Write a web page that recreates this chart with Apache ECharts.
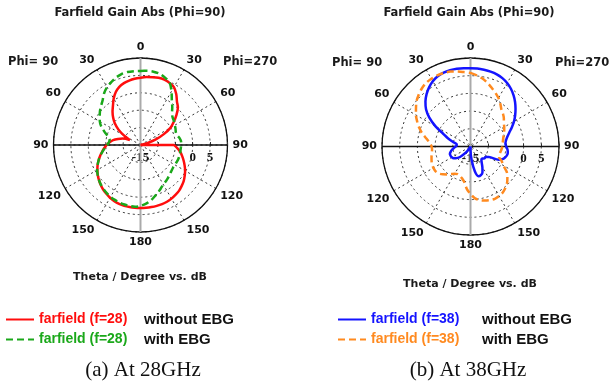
<!DOCTYPE html>
<html>
<head>
<meta charset="utf-8">
<title>Farfield Gain Abs</title>
<script src="https://cdn.jsdelivr.net/npm/echarts/dist/echarts.min.js"></script>
<style>
  html, body { margin: 0; padding: 0; background: #fff; }
  #chart { width: 611px; height: 383px; }
</style>
</head>
<body>
<div id="chart"></div>
<script>
// theta 采样 (度, 从正上方顺时针: 0-180 为 Phi=270 一侧, 180-360 为 Phi=90 一侧)
const thetaGrid = [
  0, 5, 10, 15, 20, 25, 30, 35, 40, 45, 50, 55,
  60, 65, 70, 75, 80, 85, 90, 95, 100, 105, 110, 115,
  120, 125, 130, 135, 140, 145, 150, 155, 160, 165, 170, 175,
  180, 185, 190, 195, 200, 205, 210, 215, 220, 225, 230, 235,
  240, 245, 250, 255, 260, 265, 270, 275, 280, 285, 290, 295,
  300, 305, 310, 315, 320, 325, 330, 335, 340, 345, 350, 355,
  360
];

// 增益 dB
const gain28NoEbg = [
  4.3, 4.6, 4.8, 5.0, 5.0, 4.7, 4.2, 2.9, 1.3, 0.2, -1.5, -3.3,
  -5.0, -7.6, -10.3, -13.0, -15, -15, -5.5, -4.4, -3.4, -2.6, -1.8, -1.0,
  -0.2, 0.5, 1.2, 1.7, 2.2, 2.5, 2.8, 3.0, 3.1, 3.1, 3.1, 3.1,
  3.1, 3.1, 3.1, 3.1, 3.0, 2.8, 2.5, 2.1, 1.7, 1.2, 0.6, 0.0,
  -0.7, -1.4, -2.2, -3.0, -3.8, -4.5, -5.3, -6.1, -7.0, -8.3, -9.6, -11.6,
  -9.5, -7.3, -5.4, -3.9, -2.5, -1.2, 0.4, 1.8, 2.8, 3.4, 3.8, 4.1,
  4.3
];
const gain28Ebg = [
  6.3, 6.4, 6.4, 6.2, 5.6, 4.8, 2.8, 0.7, -0.8, -2.2, -2.9, -3.2,
  -3.6, -3.9, -4.2, -4.1, -3.6, -3.3, -3.3, -3.4, -3.4, -3.4, -3.4, -3.5,
  -3.6, -3.6, -3.4, -3.1, -2.7, -2.3, -1.9, -1.2, -0.4, 0.4, 1.3, 2.0,
  2.5, 2.8, 2.8, 2.7, 2.6, 2.4, 2.2, 1.9, 1.5, 1.1, 0.6, 0.0,
  -0.6, -1.4, -2.2, -3.0, -3.9, -4.7, -5.4, -5.9, -6.0, -5.3, -4.0, -2.6,
  -1.5, -0.7, 0.2, 1.0, 1.9, 3.2, 4.2, 4.9, 5.6, 6.1, 6.3, 6.3,
  6.3
];
const gain38NoEbg = [
  7.1, 7.1, 7.0, 6.9, 6.7, 6.3, 5.7, 4.9, 3.9, 2.8, 1.6, 0.4,
  -0.8, -2.1, -3.3, -4.2, -4.8, -5.1, -4.9, -4.5, -4.3, -4.5, -5.0, -6.2,
  -9.0, -9.8, -9.8, -10.2, -10.2, -9.5, -8.3, -7.0, -6.4, -6.3, -7.8, -11.0,
  -14.0, -15, -15, -15, -15, -15, -14.5, -13.4, -12.2, -10.8, -9.9, -9.2,
  -8.9, -8.8, -8.8, -9.2, -9.7, -10.3, -10.8, -11.1, -11.0, -9.8, -8.2, -6.5,
  -3.6, -0.8, 1.4, 3.0, 4.3, 5.4, 6.3, 6.9, 7.2, 7.3, 7.3, 7.2,
  7.1
];
const gain38Ebg = [
  5.8, 5.2, 4.5, 3.6, 2.6, 1.7, 0.8, -0.3, -1.4, -2.0, -2.7, -3.5,
  -4.0, -4.5, -5.0, -5.4, -5.7, -5.9, -6.0, -6.2, -6.4, -6.5, -6.4, -5.3,
  -4.3, -2.5, -1.4, -0.4, 0.3, 0.9, 1.2, 1.3, 1.1, 0.8, 0.4, -0.3,
  -1.6, -3.0, -4.8, -5.7, -6.2, -6.4, -6.1, -5.5, -4.7, -3.9, -3.2, -2.9,
  -2.9, -3.0, -3.3, -3.6, -3.9, -4.1, -4.0, -3.4, -2.4, -0.9, 0.4, 1.6,
  2.8, 3.8, 4.9, 5.7, 6.4, 6.9, 7.1, 7.2, 7.1, 6.9, 6.5, 6.1,
  5.8
];

// 径向刻度 (dB) 与只显示的刻度标签
const radiusMin = -15;
const radiusMax = 10;
const radiusStep = 5;
const radiusLabels = [-15, 0, 5];

// 图例文字
const legendLabels28 = ['farfield (f=28)', 'farfield (f=28)'];
const legendLabels38 = ['farfield (f=38)', 'farfield (f=38)'];
const legendNotes = ['without EBG', 'with EBG'];

const dom = document.getElementById('chart');
const myChart = echarts.init(dom, null, { renderer: 'canvas' });

// theta -> echarts 角度 (startAngle 0, 顺时针, 正上方为 270)
function toPolar(gains) {
  return thetaGrid.map((t, i) => [gains[i], (t + 270) % 360]);
}

function angleAxis(idx) {
  return {
    polarIndex: idx,
    type: 'value',
    min: 0,
    max: 360,
    interval: 30,
    startAngle: 0,
    clockwise: true,
    axisLine: { lineStyle: { color: '#111', width: 1.3 } },
    axisTick: { show: false },
    axisLabel: {
      margin: 5,
      color: '#111',
      fontFamily: 'DejaVu Sans',
      fontWeight: 'bold',
      fontSize: 11,
      formatter: function (v) {
        const t = (v + 90) % 360;
        return String(t <= 180 ? t : 360 - t);
      }
    },
    splitLine: { show: true, lineStyle: { color: '#333', type: [2, 3], width: 1 } }
  };
}

function radiusAxis(idx) {
  return {
    polarIndex: idx,
    type: 'value',
    min: radiusMin,
    max: radiusMax,
    interval: radiusStep,
    axisLine: { show: false },
    axisTick: { show: true, length: 3, lineStyle: { color: '#333' } },
    axisLabel: {
      // 标签放到水平轴下方
      margin: -6,
      verticalAlign: 'top',
      color: '#111',
      fontFamily: 'Liberation Serif',
      fontWeight: 'bold',
      fontSize: 13,
      showMinLabel: true,
      formatter: function (v) {
        return radiusLabels.indexOf(v) >= 0 ? String(v) : '';
      }
    },
    splitLine: { show: true, lineStyle: { color: '#333', type: [2, 3], width: 1 } }
  };
}

// 穿过圆心的两条轴线
function crossLines(idx) {
  return [
    {
      type: 'line', coordinateSystem: 'polar', polarIndex: idx, silent: true, symbol: 'none', z: 1,
      lineStyle: { color: '#111', width: 1.3 },
      data: [[radiusMax, 0], [radiusMin, 0], [radiusMax, 180]]
    },
    {
      type: 'line', coordinateSystem: 'polar', polarIndex: idx, silent: true, symbol: 'none', z: 1,
      lineStyle: { color: '#aaa', width: 2 },
      data: [[radiusMax, 270], [radiusMin, 270], [radiusMax, 90]]
    }
  ];
}

function curve(idx, name, gains, color, dashed) {
  return {
    name: name,
    type: 'line',
    coordinateSystem: 'polar',
    polarIndex: idx,
    symbol: 'none',
    smooth: 0.3,
    z: 3,
    lineStyle: { color: color, width: 2.5, type: dashed ? [7, 4] : 'solid' },
    itemStyle: { color: color },
    data: toPolar(gains)
  };
}

const names = [
  legendLabels28[0] + ' ' + legendNotes[0],
  legendLabels28[1] + ' ' + legendNotes[1],
  legendLabels38[0] + ' ' + legendNotes[0],
  legendLabels38[1] + ' ' + legendNotes[1]
];
const colors = ['#ff0d0d', '#1aa81a', '#1414ff', '#ff8a1f'];

const boldSans = { fontFamily: 'DejaVu Sans', fontWeight: 'bold', color: '#1a1a1a' };
function text(str, x, y, align, style) {
  return { text: str, left: x, top: y, textAlign: align, padding: 0,
    textStyle: Object.assign({}, style) };
}

function legend(left, top, list, labels, colorIdx, width) {
  const rich = {
    k: { color: '#111', fontFamily: 'Liberation Sans', fontWeight: 'bold', fontSize: 15 }
  };
  rich.c0 = { color: colors[colorIdx], width: width, fontFamily: 'Liberation Sans', fontWeight: 'bold', fontSize: 14 };
  rich.c1 = { color: colors[colorIdx + 1], width: width, fontFamily: 'Liberation Sans', fontWeight: 'bold', fontSize: 14 };
  return {
    left: left, top: top, padding: 0, orient: 'vertical',
    itemWidth: 28, itemHeight: 14, itemGap: 5,
    itemStyle: { opacity: 0 },
    data: list,
    formatter: function (name) {
      const i = list.indexOf(name);
      return '{c' + i + '|' + labels[i] + '}{k|' + legendNotes[i] + '}';
    },
    textStyle: { rich: rich }
  };
}

const option = {
  backgroundColor: '#fff',
  animation: false,
  title: [
    text('Farfield Gain Abs (Phi=90)', 140, 7, 'center', Object.assign({ fontSize: 11.5 }, boldSans)),
    text('Farfield Gain Abs (Phi=90)', 469, 7, 'center', Object.assign({ fontSize: 11.5 }, boldSans)),
    text('Phi= 90', 8, 56, 'left', Object.assign({ fontSize: 11.5 }, boldSans)),
    text('Phi=270', 223, 56, 'left', Object.assign({ fontSize: 11.5 }, boldSans)),
    text('Phi= 90', 332, 57, 'left', Object.assign({ fontSize: 11.5 }, boldSans)),
    text('Phi=270', 555, 57, 'left', Object.assign({ fontSize: 11.5 }, boldSans)),
    text('Theta / Degree vs. dB', 140, 272, 'center', Object.assign({ fontSize: 11 }, boldSans)),
    text('Theta / Degree vs. dB', 470, 279, 'center', Object.assign({ fontSize: 11 }, boldSans)),
    text('(a) At 28GHz', 143, 360, 'center', { fontFamily: 'Liberation Serif', fontSize: 21, fontWeight: 'normal', color: '#111' }),
    text('(b) At 38GHz', 468, 360, 'center', { fontFamily: 'Liberation Serif', fontSize: 21, fontWeight: 'normal', color: '#111' })
  ],
  polar: [
    { center: [140.5, 145], radius: 87 },
    { center: [470.5, 146.5], radius: 88.5 }
  ],
  angleAxis: [angleAxis(0), angleAxis(1)],
  radiusAxis: [radiusAxis(0), radiusAxis(1)],
  legend: [
    legend(5, 312, [names[0], names[1]], legendLabels28, 0, 105),
    legend(337, 312, [names[2], names[3]], legendLabels38, 2, 111)
  ],
  series: [].concat(
    crossLines(0),
    crossLines(1),
    [
      curve(0, names[0], gain28NoEbg, colors[0], false),
      curve(0, names[1], gain28Ebg, colors[1], true),
      curve(1, names[2], gain38NoEbg, colors[2], false),
      curve(1, names[3], gain38Ebg, colors[3], true)
    ]
  )
};

if (option && typeof option === 'object') {
  myChart.setOption(option);
}

window.addEventListener('resize', function () {
  myChart.resize();
});
</script>
</body>
</html>
